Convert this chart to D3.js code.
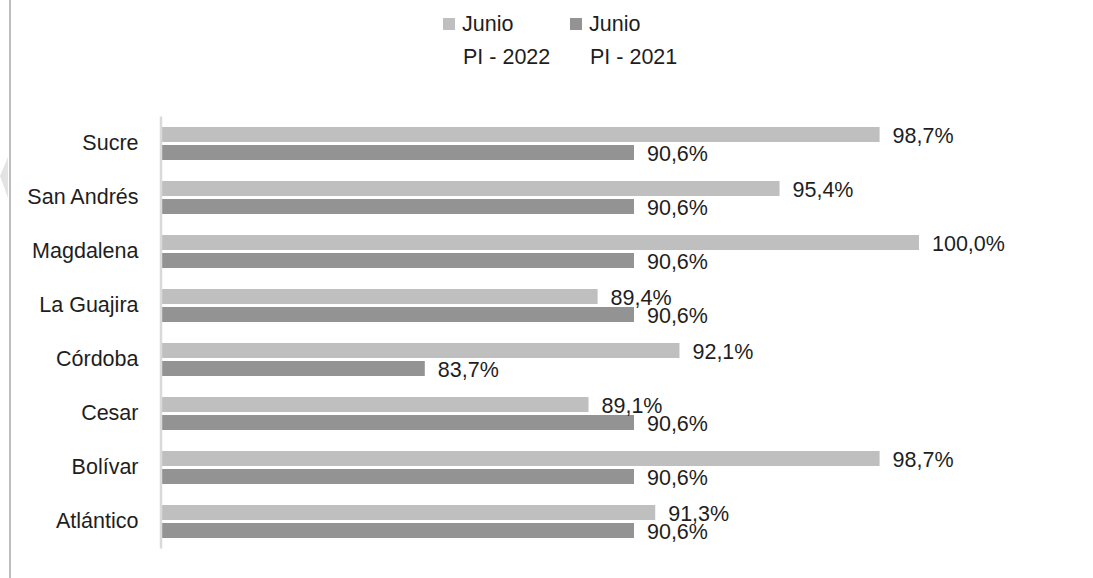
<!DOCTYPE html>
<html>
<head>
<meta charset="utf-8">
<script src="https://cdn.jsdelivr.net/npm/d3@7"></script>
<style>
  body { margin: 0; background: #fff; }
  svg text { font-family: "Liberation Sans", Arial, sans-serif; fill: #1e1e1e; }
</style>
</head>
<body>
<div id="chart"></div>
<script>
// data
var categories = ["Sucre", "San Andrés", "Magdalena", "La Guajira", "Córdoba", "Cesar", "Bolívar", "Atlántico"];
var pi2022 = [98.7, 95.4, 100.0, 89.4, 92.1, 89.1, 98.7, 91.3];
var pi2021 = [90.6, 90.6, 90.6, 90.6, 83.7, 90.6, 90.6, 90.6];
var seriesKeys = ["2022", "2021"];
var legendLines = [["Junio", "PI - 2022"], ["Junio", "PI - 2021"]];

var W = 1093, H = 578;
var colors = { "2022": "#bfbfbf", "2021": "#939393" };

var svg = d3.select("#chart").append("svg")
  .attr("width", W)
  .attr("height", H);

// page frame decoration on the left
svg.append("line")
  .attr("x1", 10).attr("x2", 10).attr("y1", 0).attr("y2", H)
  .attr("stroke", "#bdbdbd").attr("stroke-width", 2);
svg.append("path")
  .attr("d", "M0,176 L8,157 L8,198 Z")
  .attr("fill", "#e3e3e3");

// scales
var x = d3.scaleLinear().domain([75, 100]).range([161, 919]);
var y = d3.scaleBand().domain(categories).range([116, 548]);
var ySub = d3.scaleBand().domain(seriesKeys).range([11, 44]).paddingInner(1 / 6);

var loc = d3.formatLocale({ decimal: ",", thousands: ".", grouping: [3], currency: ["", ""] });
var fmt = loc.format(".1f");

var rows = categories.map(function(c, i) {
  return { cat: c, vals: [{ key: "2022", v: pi2022[i] }, { key: "2021", v: pi2021[i] }] };
});

var groups = svg.selectAll(".cat")
  .data(rows)
  .enter().append("g")
  .attr("class", "cat")
  .attr("transform", function(d) { return "translate(0," + y(d.cat) + ")"; });

groups.selectAll("rect")
  .data(function(d) { return d.vals; })
  .enter().append("rect")
  .attr("x", x(75))
  .attr("y", function(d) { return ySub(d.key); })
  .attr("width", function(d) { return x(d.v) - x(75); })
  .attr("height", ySub.bandwidth())
  .attr("fill", function(d) { return colors[d.key]; });

groups.selectAll(".lbl")
  .data(function(d) { return d.vals; })
  .enter().append("text")
  .attr("class", "lbl")
  .attr("x", function(d) { return x(d.v) + 13; })
  .attr("y", function(d) { return ySub(d.key) + ySub.bandwidth() / 2 + 8.5; })
  .style("font-size", "21.5px")
  .text(function(d) { return fmt(d.v) + "%"; });

// category axis
var yAxis = svg.append("g")
  .attr("transform", "translate(160.5,0)")
  .call(d3.axisLeft(y).tickSize(0).tickPadding(22));
yAxis.select(".domain").attr("stroke", "#d9d9d9").attr("stroke-width", 2.5);
yAxis.selectAll("text")
  .style("font-size", "21.5px")
  .style("font-family", "'Liberation Sans', Arial, sans-serif")
  .attr("fill", "#1e1e1e");

// legend
var legendX = [443, 570];
var legend = svg.selectAll(".leg")
  .data(seriesKeys)
  .enter().append("g")
  .attr("class", "leg")
  .attr("transform", function(d, i) { return "translate(" + legendX[i] + ",0)"; });

legend.append("rect")
  .attr("x", 0).attr("y", 18)
  .attr("width", 12).attr("height", 12)
  .attr("fill", function(d) { return colors[d]; });

legend.append("text")
  .attr("x", 19).attr("y", 31)
  .style("font-size", "21.5px")
  .text(function(d, i) { return legendLines[i][0]; });

legend.append("text")
  .attr("x", 20).attr("y", 64)
  .style("font-size", "21.5px")
  .text(function(d, i) { return legendLines[i][1]; });
</script>
</body>
</html>
